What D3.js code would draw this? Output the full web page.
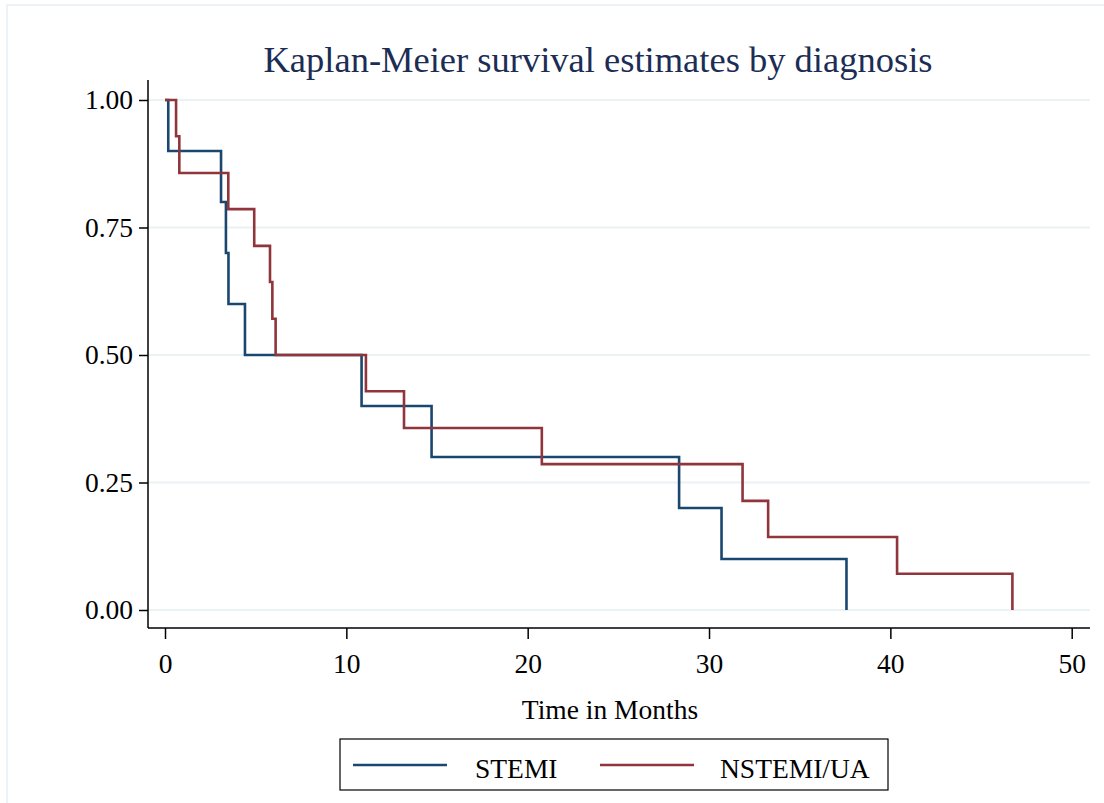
<!DOCTYPE html>
<html>
<head>
<meta charset="utf-8">
<script src="https://cdn.jsdelivr.net/npm/d3@7"></script>
<style>
  body { margin: 0; background: #fff; }
  svg text { font-family: "Liberation Serif", "Times New Roman", serif; }
</style>
</head>
<body>
<div class="km-plot"></div>
<script>
// step times (months) and survival after each step
const stemiTimes = [0, 0.18, 3.09, 3.36, 3.5, 4.41, 10.84, 14.7, 28.35, 30.69, 37.58]
const stemiSurv  = [1.0, 0.9, 0.8, 0.7, 0.6, 0.5, 0.4, 0.3, 0.2, 0.1, 0.0]

const nstemiTimes = [0, 0.61, 0.79, 3.49, 4.92, 5.79, 5.92, 6.1, 11.08, 13.18, 20.78, 31.85, 33.26, 40.37, 46.73]
const nstemiSurv  = [1.0, 0.929, 0.857, 0.786, 0.714, 0.643, 0.571, 0.5, 0.429, 0.357, 0.286, 0.214, 0.143, 0.071, 0.0]

const xTicks = [0, 10, 20, 30, 40, 50]
const yTicks = [0, 0.25, 0.5, 0.75, 1]

const seriesNames = ['STEMI', 'NSTEMI/UA']
const colors = ['#1a476f', '#90353b']

const width = 1104, height = 803
const plot = {left: 148, right: 1090, top: 80, bottom: 628}

const svg = d3.select('.km-plot').append('svg')
    .attr('width', width)
    .attr('height', height)

// faint graph region border
svg.append('rect')
    .attr('x', 7).attr('y', 5)
    .attr('width', width).attr('height', height)
    .attr('fill', 'none')
    .attr('stroke', '#e6eef3')
    .attr('stroke-width', 1.5)

const x = d3.scaleLinear().domain([0, 50]).range([165, 1071.7])
const y = d3.scaleLinear().domain([0, 1]).range([610, 100])

// grid lines
svg.selectAll('.grid')
    .data(yTicks)
    .enter()
    .append('line')
    .attr('class', 'grid')
    .attr('x1', plot.left).attr('x2', plot.right)
    .attr('y1', d => y(d)).attr('y2', d => y(d))
    .attr('stroke', '#eaf2f3')
    .attr('stroke-width', 2)

// y axis
const yAxis = svg.append('g')
    .attr('transform', `translate(${plot.left},0)`)
    .call(d3.axisLeft(y).tickValues(yTicks).tickFormat(d3.format('.2f')).tickSize(9).tickPadding(6))
yAxis.select('.domain').attr('d', `M0,${plot.top}V${plot.bottom}`).attr('stroke', '#000').attr('stroke-width', 1.5)
yAxis.selectAll('.tick line').attr('stroke', '#000').attr('stroke-width', 1.5)
yAxis.selectAll('.tick text').attr('font-size', 27.5).attr('fill', '#000')
    .attr('font-family', '"Liberation Serif", serif')

// x axis
const xAxis = svg.append('g')
    .attr('transform', `translate(0,${plot.bottom})`)
    .call(d3.axisBottom(x).tickValues(xTicks).tickSize(11).tickPadding(14))
xAxis.select('.domain').attr('d', `M${plot.left},0H${plot.right}`).attr('stroke', '#000').attr('stroke-width', 1.5)
xAxis.selectAll('.tick line').attr('stroke', '#000').attr('stroke-width', 1.5)
xAxis.selectAll('.tick text').attr('font-size', 27.5).attr('fill', '#000')
    .attr('font-family', '"Liberation Serif", serif')

// step curves
const line = d3.line()
    .x(d => x(d[0]))
    .y(d => y(d[1]))
    .curve(d3.curveStepAfter)

const series = [
  d3.zip(stemiTimes, stemiSurv),
  d3.zip(nstemiTimes, nstemiSurv)
]

svg.selectAll('.km')
    .data(series)
    .enter()
    .append('path')
    .attr('class', 'km')
    .attr('d', line)
    .attr('fill', 'none')
    .attr('stroke', (d, i) => colors[i])
    .attr('stroke-width', 2.6)

// title
svg.append('text')
    .attr('x', 598).attr('y', 72)
    .attr('text-anchor', 'middle')
    .attr('font-size', 36.5)
    .attr('fill', '#1c2d55')
    .text('Kaplan-Meier survival estimates by diagnosis')

// x axis title
svg.append('text')
    .attr('x', 610).attr('y', 719)
    .attr('text-anchor', 'middle')
    .attr('font-size', 27.5)
    .text('Time in Months')

// legend
svg.append('rect')
    .attr('x', 340).attr('y', 739)
    .attr('width', 548).attr('height', 51)
    .attr('fill', '#fff')
    .attr('stroke', '#000')
    .attr('stroke-width', 1.2)

const legendX = [353, 600]
const legendTextX = [475, 720]

svg.selectAll('.leg-line')
    .data(seriesNames)
    .enter()
    .append('line')
    .attr('x1', (d, i) => legendX[i]).attr('x2', (d, i) => legendX[i] + 94)
    .attr('y1', 765).attr('y2', 765)
    .attr('stroke', (d, i) => colors[i])
    .attr('stroke-width', 2.6)

svg.selectAll('.leg-text')
    .data(seriesNames)
    .enter()
    .append('text')
    .attr('x', (d, i) => legendTextX[i])
    .attr('y', 778)
    .attr('font-size', 27.5)
    .text(d => d)
</script>
</body>
</html>
